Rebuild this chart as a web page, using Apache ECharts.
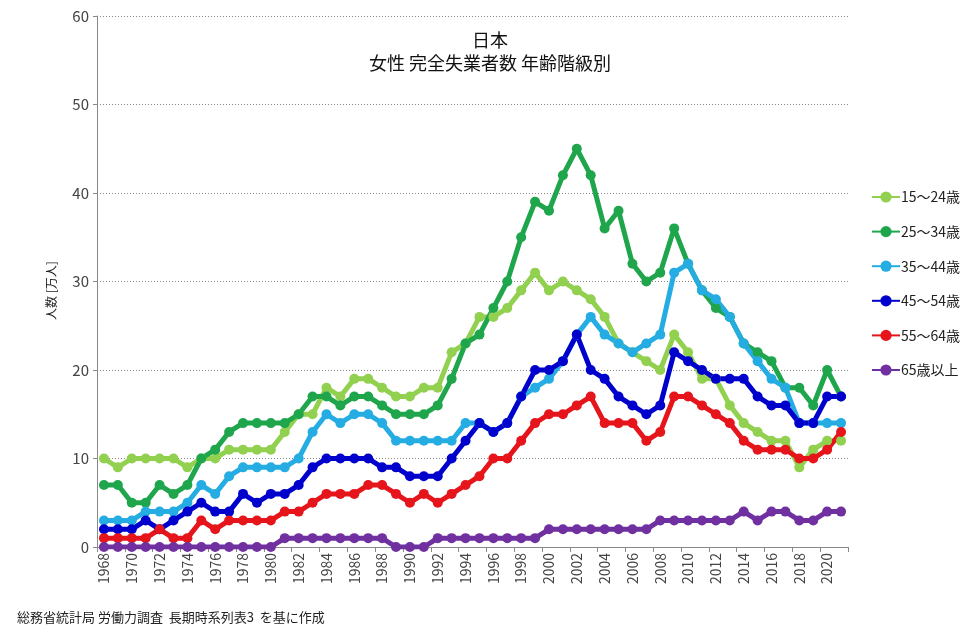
<!DOCTYPE html>
<html lang="ja">
<head>
    <meta charset="UTF-8" />
    <title>女性 完全失業者数 年齢階級別</title>
    <script src="https://cdn.jsdelivr.net/npm/echarts@6.0.0/dist/echarts.min.js"></script>
    <style>
        body { margin: 0; background: #fff; }
    </style>
</head>
<body>
<div id="main" style="width: 978px;height:639px;"></div>
<script type="text/javascript">
    // 年（1968〜2021）
    var years = [];
    for (var y = 1968; y <= 2021; y++) { years.push(String(y)); }

    var seriesNames = ['15～24歳', '25～34歳', '35～44歳', '45～54歳', '55～64歳', '65歳以上'];
    var seriesColors = ['#92D050', '#1FA64C', '#25ADE3', '#0000CC', '#E5151B', '#7030A0'];

    // 単位：万人
    var age15_24 = [10, 9, 10, 10, 10, 10, 9, 10, 10, 11,
        11, 11, 11, 13, 15, 15, 18, 17, 19, 19,
        18, 17, 17, 18, 18, 22, 23, 26, 26, 27,
        29, 31, 29, 30, 29, 28, 26, 23, 22, 21,
        20, 24, 22, 19, 19, 16, 14, 13, 12, 12,
        9, 11, 12, 12];
    var age25_34 = [7, 7, 5, 5, 7, 6, 7, 10, 11, 13,
        14, 14, 14, 14, 15, 17, 17, 16, 17, 17,
        16, 15, 15, 15, 16, 19, 23, 24, 27, 30,
        35, 39, 38, 42, 45, 42, 36, 38, 32, 30,
        31, 36, 32, 29, 27, 26, 23, 22, 21, 18,
        18, 16, 20, 17];
    var age35_44 = [3, 3, 3, 4, 4, 4, 5, 7, 6, 8,
        9, 9, 9, 9, 10, 13, 15, 14, 15, 15,
        14, 12, 12, 12, 12, 12, 14, 14, 13, 14,
        17, 18, 19, 21, 24, 26, 24, 23, 22, 23,
        24, 31, 32, 29, 28, 26, 23, 21, 19, 18,
        14, 14, 14, 14];
    var age45_54 = [2, 2, 2, 3, 2, 3, 4, 5, 4, 4,
        6, 5, 6, 6, 7, 9, 10, 10, 10, 10,
        9, 9, 8, 8, 8, 10, 12, 14, 13, 14,
        17, 20, 20, 21, 24, 20, 19, 17, 16, 15,
        16, 22, 21, 20, 19, 19, 19, 17, 16, 16,
        14, 14, 17, 17];
    var age55_64 = [1, 1, 1, 1, 2, 1, 1, 3, 2, 3,
        3, 3, 3, 4, 4, 5, 6, 6, 6, 7,
        7, 6, 5, 6, 5, 6, 7, 8, 10, 10,
        12, 14, 15, 15, 16, 17, 14, 14, 14, 12,
        13, 17, 17, 16, 15, 14, 12, 11, 11, 11,
        10, 10, 11, 13];
    var age65over = [0, 0, 0, 0, 0, 0, 0, 0, 0, 0,
        0, 0, 0, 1, 1, 1, 1, 1, 1, 1,
        1, 0, 0, 0, 1, 1, 1, 1, 1, 1,
        1, 1, 2, 2, 2, 2, 2, 2, 2, 2,
        3, 3, 3, 3, 3, 3, 4, 3, 4, 4,
        3, 3, 4, 4];

    var yTicks = [0, 10, 20, 30, 40, 50, 60];

    var allData = [age15_24, age25_34, age35_44, age45_54, age55_64, age65over];
    var fontFamily = '"Noto Sans CJK JP", "Noto Sans", sans-serif';

    var series = [];
    for (var i = 0; i < allData.length; i++) {
        series.push({
            name: seriesNames[i],
            type: 'line',
            data: allData[i],
            symbol: 'circle',
            symbolSize: 10,
            showSymbol: true,
            showAllSymbol: true,
            lineStyle: { width: 5, color: seriesColors[i] },
            itemStyle: { color: seriesColors[i] },
            emphasis: { disabled: true },
            animation: false
        });
    }

    var myChart = echarts.init(document.getElementById('main'));
    var option = {
        textStyle: { fontFamily: fontFamily },
        title: {
            text: '日本\n女性 完全失業者数 年齢階級別',
            left: 485,
            top: 24,
            textAlign: 'center',
            textStyle: {
                fontSize: 18,
                fontWeight: 'normal',
                color: '#111',
                lineHeight: 23,
                fontFamily: fontFamily
            }
        },
        legend: {
            orient: 'vertical',
            left: 866,
            top: 185,
            itemWidth: 28,
            itemHeight: 14,
            itemGap: 20.6,
            textStyle: { fontSize: 14, color: '#222', padding: [0, 0, 0, -4] },
            data: seriesNames
        },
        grid: {
            left: 97,
            right: 130,
            top: 16,
            bottom: 92
        },
        xAxis: {
            type: 'category',
            data: years,
            boundaryGap: true,
            axisLine: { lineStyle: { color: '#888', width: 1 } },
            axisTick: { show: true, interval: 1, lineStyle: { color: '#888' }, length: 5 },
            axisLabel: {
                interval: 1,
                rotate: 90,
                fontSize: 14,
                color: '#444',
                margin: 6
            },
            splitLine: { show: false }
        },
        yAxis: {
            type: 'value',
            min: yTicks[0],
            max: yTicks[yTicks.length - 1],
            interval: 10,
            name: '人数 [万人]',
            nameLocation: 'middle',
            nameGap: 40,
            nameRotate: 90,
            nameTextStyle: { fontSize: 12, color: '#222', padding: [0, 0, 0, -18] },
            axisLine: { show: true, lineStyle: { color: '#888', width: 1 } },
            axisTick: { show: true, length: 4, lineStyle: { color: '#888' } },
            axisLabel: { fontSize: 15, color: '#444', margin: 8 },
            splitLine: { show: true, lineStyle: { color: '#888', type: [1, 2], width: 1 } }
        },
        graphic: [{
            type: 'text',
            left: 17,
            top: 611,
            style: {
                text: '総務省統計局 労働力調査  長期時系列表3  を基に作成',
                fontSize: 13,
                fill: '#222',
                fontFamily: fontFamily
            }
        }],
        series: series
    };
    myChart.setOption(option);
</script>
</body>
</html>
